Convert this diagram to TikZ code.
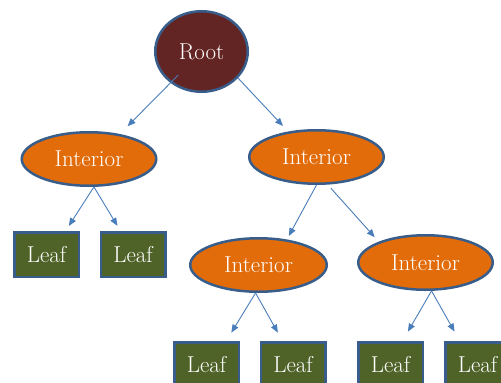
\documentclass[tikz,border=0pt]{standalone}
\usetikzlibrary{shapes.geometric,arrows.meta}
\definecolor{rootfill}{HTML}{632523}
\definecolor{intfill}{HTML}{E36C0A}
\definecolor{leaffill}{HTML}{4F6228}
\definecolor{bord}{HTML}{385D8A}
\definecolor{arrc}{HTML}{4A7EBB}
\tikzset{
  base/.style={draw=bord, line width=2.5pt, text=white, inner sep=0pt,
    font=\fontsize{23}{23}\selectfont},
  rootnode/.style={base, ellipse, fill=rootfill, minimum width=92.5pt, minimum height=80.5pt},
  intnode/.style={base, ellipse, fill=intfill, minimum width=134.5pt, minimum height=53.5pt},
  leafnode/.style={base, rectangle, fill=leaffill, minimum width=64.5pt, minimum height=44.5pt},
  arr/.style={draw=arrc, line width=0.9pt, -{Triangle[length=8pt,width=6.5pt]}}
}
\begin{document}
\begin{tikzpicture}[x=1pt,y=-1pt]
\useasboundingbox (0,0) rectangle (501,383);
\node[rootnode] (root) at (201.5,51.5) {Root};
\node[intnode] (intL) at (89,159) {Interior};
\node[intnode, minimum width=134.5pt] (intR) at (316.5,157) {Interior};
\node[intnode, minimum width=136.5pt] (intBL) at (258.5,265) {Interior};
\node[intnode, minimum height=54.5pt] (intBR) at (425.5,262.5) {Interior};
\node[leafnode] (leafA) at (46.5,254.5) {Leaf};
\node[leafnode] (leafB) at (133,254.5) {Leaf};
\node[leafnode] (leafC) at (206.5,364.5) {Leaf};
\node[leafnode] (leafD) at (293,364.5) {Leaf};
\node[leafnode] (leafE) at (390.5,364.5) {Leaf};
\node[leafnode] (leafF) at (477.5,364.5) {Leaf};

\draw[arr, shorten <=33pt, shorten >=10.9pt] (root.center) -- (intL.39.3);
\draw[arr, shorten >=7.6pt] (root.-36) -- (intR.138);
\draw[arr, shorten >=6pt] (intL.-80) -- (leafA.51);
\draw[arr, shorten >=6pt] (intL.-80) -- (leafB.118);
\draw[arr, shorten >=3.9pt] (intR.south) -- (intBL.42.8);
\draw[arr, shorten <=4.8pt, shorten >=6pt] (intR.-68.7) -- (intBR.156.2);
\draw[arr, shorten >=9.8pt] (intBL.-96.6) -- (leafC.50.7);
\draw[arr, shorten >=9.6pt] (intBL.-96.6) -- (leafD.114.4);
\draw[arr, shorten >=10.8pt] (intBR.-78.6) -- (leafE.63.8);
\draw[arr, shorten >=10.8pt] (intBR.-78.6) -- (leafF.127.3);
\end{tikzpicture}
\end{document}
